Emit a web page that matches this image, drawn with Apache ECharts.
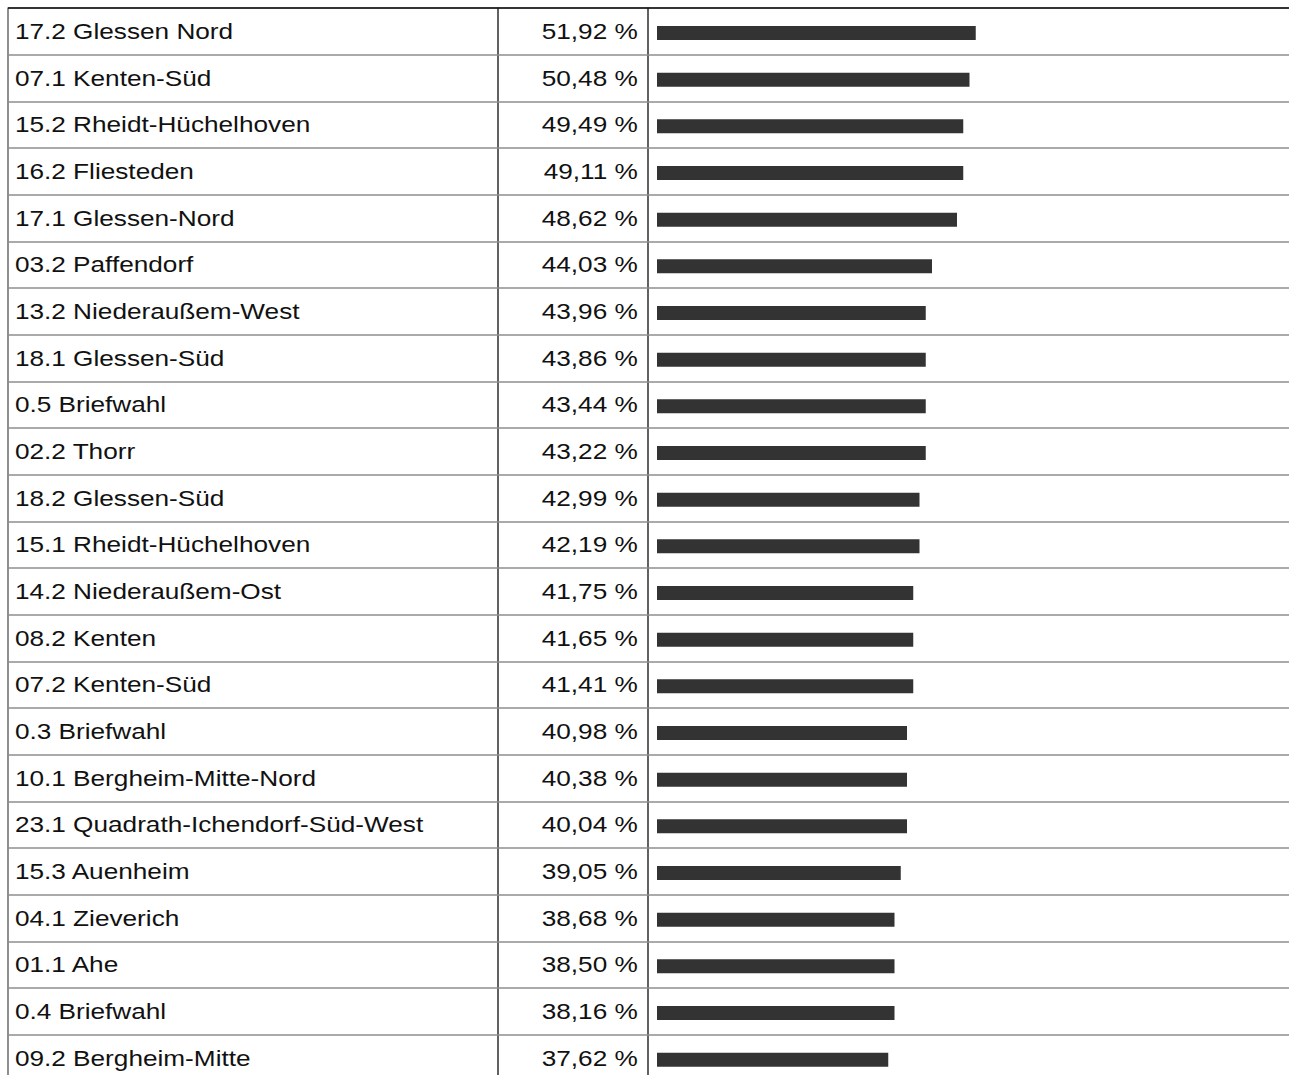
<!DOCTYPE html>
<html>
<head>
<meta charset="utf-8">
<script src="https://cdn.jsdelivr.net/npm/echarts@6/dist/echarts.min.js"></script>
<style>
  html, body { margin: 0; background: #fff; overflow: hidden; width: 1289px; height: 1075px; }
  /* the reference table is stretched horizontally, so the svg is drawn narrow and scaled */
  #chart { width: 1100px; height: 1100px; transform: scaleX(1.19); transform-origin: 0 0; }
</style>
</head>
<body>
<div id="chart"></div>
<script>
const districts = [
  '17.2 Glessen Nord', '07.1 Kenten-Süd', '15.2 Rheidt-Hüchelhoven', '16.2 Fliesteden',
  '17.1 Glessen-Nord', '03.2 Paffendorf', '13.2 Niederaußem-West', '18.1 Glessen-Süd',
  '0.5 Briefwahl', '02.2 Thorr', '18.2 Glessen-Süd', '15.1 Rheidt-Hüchelhoven',
  '14.2 Niederaußem-Ost', '08.2 Kenten', '07.2 Kenten-Süd', '0.3 Briefwahl',
  '10.1 Bergheim-Mitte-Nord', '23.1 Quadrath-Ichendorf-Süd-West', '15.3 Auenheim',
  '04.1 Zieverich', '01.1 Ahe', '0.4 Briefwahl', '09.2 Bergheim-Mitte'
];

const shares = [
  51.92, 50.48, 49.49, 49.11, 48.62, 44.03, 43.96, 43.86, 43.44, 43.22, 42.99, 42.19,
  41.75, 41.65, 41.41, 40.98, 40.38, 40.04, 39.05, 38.68, 38.50, 38.16, 37.62
];

// bar lengths as drawn in the picture (whole percent)
const barLengths = [
  51, 50, 49, 49, 48, 44, 43, 43, 43, 43, 42, 42,
  41, 41, 41, 40, 40, 40, 39, 38, 38, 38, 37
];

const valueLabels = shares.map(v => `${v.toFixed(2).replace('.', ',')} %`);

const sx = 1.19; // horizontal stretch, must match the css scaleX
const px = x => x / sx;

const rowH = 140 / 3;
const tableTop = 8;
const tableH = rowH * districts.length;

// first line is the dark top border, the rest are row separators
const rowLineColors = ['#111'];
for (let i = 0; i < districts.length; i++) rowLineColors.push('#8e8e8e');

const textStyle = {
  color: '#111',
  fontFamily: '"Liberation Sans", Arial, sans-serif',
  fontSize: 22
};

const columnGrid = (left, width) => ({
  left: px(left), width: px(width), top: tableTop, height: tableH,
  show: true, borderColor: '#444', borderWidth: 1, backgroundColor: 'transparent'
});

const hiddenX = (gridIndex, max) => ({
  type: 'value', gridIndex, min: 0, max, show: false
});

const rowAxis = (gridIndex, data, extra) => Object.assign({
  type: 'category',
  gridIndex,
  data,
  inverse: true,
  axisLine: { show: false },
  axisTick: { show: false },
  splitLine: { show: true, interval: 0, lineStyle: { color: rowLineColors, width: 1.5 } },
  axisLabel: { show: false }
}, extra);

const chart = echarts.init(document.getElementById('chart'), null, { renderer: 'svg' });

const option = {
  animation: false,
  grid: [
    columnGrid(8, 490),
    columnGrid(498, 150),
    columnGrid(648, 700),
    { left: px(657), width: px(625), top: tableTop + 1.7, height: tableH }
  ],
  xAxis: [hiddenX(0, 1), hiddenX(1, 1), hiddenX(2, 1), hiddenX(3, 100)],
  yAxis: [
    rowAxis(0, districts, {
      position: 'left',
      axisLabel: Object.assign({ show: true, inside: true, margin: 5.8, interval: 0, padding: [0, 0, 4, 0] }, textStyle)
    }),
    rowAxis(1, valueLabels, {
      position: 'right',
      axisLabel: Object.assign({ show: true, inside: true, margin: 8.6, interval: 0, padding: [0, 0, 4, 0] }, textStyle)
    }),
    rowAxis(2, districts),
    {
      type: 'category', gridIndex: 3, data: districts, inverse: true, show: false
    }
  ],
  series: [
    {
      type: 'bar',
      xAxisIndex: 3,
      yAxisIndex: 3,
      data: barLengths,
      barWidth: 14,
      itemStyle: { color: '#333' },
      silent: true
    }
  ]
};

chart.setOption(option);
</script>
</body>
</html>
